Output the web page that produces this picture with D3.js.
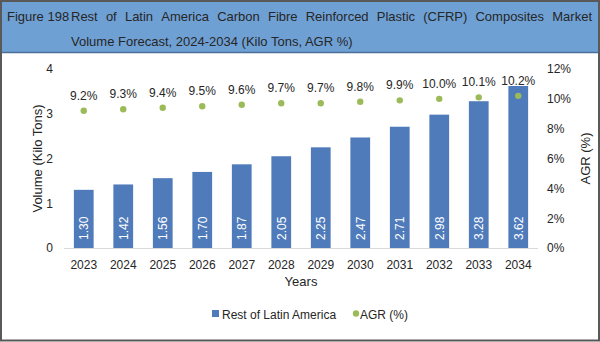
<!DOCTYPE html>
<html>
<head>
<meta charset="utf-8">
<script src="https://cdn.jsdelivr.net/npm/d3@7"></script>
<style>
  html, body { margin: 0; padding: 0; background: #fff; }
  svg { display: block; font-family: Arial, "Liberation Sans", sans-serif; }
</style>
</head>
<body>
<div id="chart"></div>
<script>
"use strict";

/* ── Data ── */
const years   = ["2023","2024","2025","2026","2027","2028","2029","2030","2031","2032","2033","2034"];
const volume  = [1.30, 1.42, 1.56, 1.70, 1.87, 2.05, 2.25, 2.47, 2.71, 2.98, 3.28, 3.62];
const agr     = [9.2, 9.3, 9.4, 9.5, 9.6, 9.7, 9.7, 9.8, 9.9, 10.0, 10.1, 10.2];
const leftTicks  = [0, 1, 2, 3, 4];
const rightTicks = [0, 2, 4, 6, 8, 10, 12];

const titleLead  = "Figure 198";
const titleLine1 = "Rest of Latin America Carbon Fibre Reinforced Plastic (CFRP) Composites Market";
const titleLine2 = "Volume Forecast, 2024-2034 (Kilo Tons, AGR %)";
const seriesNames = ["Rest of Latin America", "AGR (%)"];

const BAR_COL = "#4f7bbb";
const DOT_COL = "#9bbb59";
const TXT_COL = "#262626";

/* ── Dimensions ── */
const W = 600, H = 342;
const plot = { left: 64, right: 538, top: 69, bottom: 248 };

const svg = d3.select("#chart").append("svg")
  .attr("width", W).attr("height", H);

svg.append("rect").attr("width", W).attr("height", H).attr("fill", "#fff");

/* ── Title band ── */
svg.append("rect")
  .attr("x", 0).attr("y", 0).attr("width", W).attr("height", 52)
  .attr("fill", "#6fa0d4");
svg.append("line")
  .attr("x1", 0).attr("x2", W).attr("y1", 52.5).attr("y2", 52.5)
  .attr("stroke", "#4a6f98").attr("stroke-width", 1.5);

svg.append("text")
  .attr("x", 7).attr("y", 21)
  .attr("font-size", "13px").attr("fill", TXT_COL)
  .text(titleLead);

/* line 1 is justified across the band: place words one by one */
const words = titleLine1.split(" ");
const wordEls = words.map(w => svg.append("text")
  .attr("y", 21).attr("font-size", "13px").attr("fill", TXT_COL).text(w));
const widths = wordEls.map(t => t.node().getComputedTextLength());
const x0 = 71, x1 = 592;
const gap = (x1 - x0 - d3.sum(widths)) / (words.length - 1);
let cx = x0;
wordEls.forEach((t, i) => { t.attr("x", cx); cx += widths[i] + gap; });

svg.append("text")
  .attr("x", 71).attr("y", 46)
  .attr("font-size", "13px").attr("fill", TXT_COL)
  .text(titleLine2);

/* ── Scales ── */
const x = d3.scaleBand().domain(years)
  .range([plot.left, plot.right])
  .paddingInner(0.5).paddingOuter(0.25);
const y = d3.scaleLinear().domain([0, 4]).range([plot.bottom, plot.top]);
const yR = d3.scaleLinear().domain([0, 12]).range([plot.bottom, plot.top]);

/* ── Bars ── */
svg.append("g").selectAll("rect")
  .data(years)
  .join("rect")
  .attr("x", d => x(d))
  .attr("y", (d, i) => y(volume[i]))
  .attr("width", x.bandwidth())
  .attr("height", (d, i) => y(0) - y(volume[i]))
  .attr("fill", BAR_COL);

/* value labels inside the bars */
svg.append("g").selectAll("text")
  .data(years)
  .join("text")
  .attr("transform", d => `translate(${x(d) + x.bandwidth() / 2 + 4.5},${y(0) - 8}) rotate(-90)`)
  .attr("font-size", "12px").attr("fill", "#fff")
  .text((d, i) => volume[i].toFixed(2));

/* ── Baseline ── */
svg.append("line")
  .attr("x1", plot.left).attr("x2", plot.right)
  .attr("y1", y(0) + 0.5).attr("y2", y(0) + 0.5)
  .attr("stroke", "#d9d9d9");

/* ── AGR dots ── */
svg.append("g").selectAll("circle")
  .data(years)
  .join("circle")
  .attr("cx", d => x(d) + x.bandwidth() / 2)
  .attr("cy", (d, i) => yR(agr[i]))
  .attr("r", 3.2)
  .attr("fill", DOT_COL);

svg.append("g").selectAll("text")
  .data(years)
  .join("text")
  .attr("x", d => x(d) + x.bandwidth() / 2)
  .attr("y", (d, i) => yR(agr[i]) - 11)
  .attr("text-anchor", "middle")
  .attr("font-size", "12px").attr("fill", TXT_COL)
  .text((d, i) => agr[i].toFixed(1) + "%");

/* ── Axes ── */
const styleTicks = g => {
  g.select(".domain").remove();
  g.selectAll(".tick text").attr("fill", TXT_COL).attr("font-size", "12px")
    .attr("font-family", "Arial, 'Liberation Sans', sans-serif");
};

svg.append("g")
  .attr("transform", `translate(0,${plot.bottom})`)
  .call(d3.axisBottom(x).tickSize(0).tickPadding(12))
  .call(styleTicks);

svg.append("g")
  .attr("transform", `translate(${plot.left},0)`)
  .call(d3.axisLeft(y).tickValues(leftTicks).tickFormat(d3.format("d")).tickSize(0).tickPadding(11))
  .call(styleTicks);

svg.append("g")
  .attr("transform", `translate(${plot.right},0)`)
  .call(d3.axisRight(yR).tickValues(rightTicks).tickFormat(d => d + "%").tickSize(0).tickPadding(9))
  .call(styleTicks);

/* ── Axis titles ── */
svg.append("text")
  .attr("x", (plot.left + plot.right) / 2).attr("y", 286)
  .attr("text-anchor", "middle")
  .attr("font-size", "13px").attr("fill", TXT_COL)
  .text("Years");

svg.append("text")
  .attr("transform", `translate(42,${(plot.top + plot.bottom) / 2}) rotate(-90)`)
  .attr("text-anchor", "middle")
  .attr("font-size", "13px").attr("fill", TXT_COL)
  .text("Volume (Kilo Tons)");

svg.append("text")
  .attr("transform", `translate(590,${(plot.top + plot.bottom) / 2}) rotate(-90)`)
  .attr("text-anchor", "middle")
  .attr("font-size", "13px").attr("fill", TXT_COL)
  .text("AGR (%)");

/* ── Legend ── */
const legend = svg.append("g").attr("transform", "translate(212,315)");
legend.append("rect").attr("x", 0).attr("y", -5).attr("width", 7).attr("height", 7).attr("fill", BAR_COL);
legend.append("text").attr("x", 10).attr("y", 3.5)
  .attr("font-size", "12px").attr("fill", TXT_COL).text(seriesNames[0]);
legend.append("circle").attr("cx", 144).attr("cy", -1.5).attr("r", 3.2).attr("fill", DOT_COL);
legend.append("text").attr("x", 148).attr("y", 3.5)
  .attr("font-size", "12px").attr("fill", TXT_COL).text(seriesNames[1]);

/* ── Outer frame ── */
svg.append("rect")
  .attr("x", 1).attr("y", 1).attr("width", W - 2).attr("height", H - 2.5)
  .attr("fill", "none").attr("stroke", "#595959").attr("stroke-width", 2);
</script>
</body>
</html>
